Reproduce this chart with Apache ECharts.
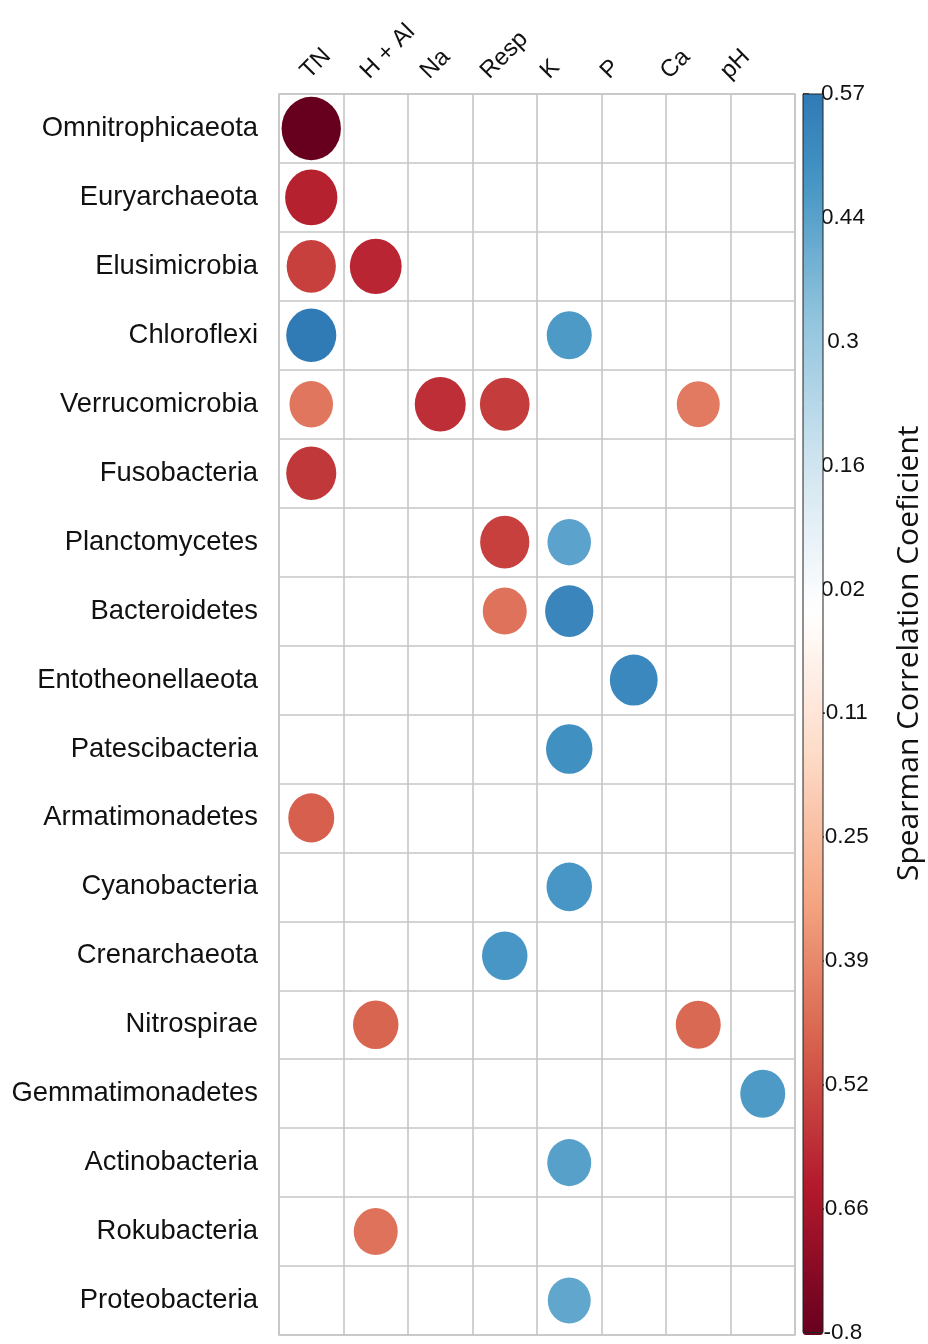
<!DOCTYPE html>
<html>
<head>
<meta charset="utf-8">
<script src="https://cdn.jsdelivr.net/npm/echarts@6/dist/echarts.min.js"></script>
<style>
  html, body { margin: 0; padding: 0; background: #ffffff; }
  #chart { width: 928px; height: 1344px; }
</style>
</head>
<body>
<div id="chart"></div>
<script>
// ---------- DATA ----------
const rows = ['Omnitrophicaeota', 'Euryarchaeota', 'Elusimicrobia', 'Chloroflexi', 'Verrucomicrobia',
  'Fusobacteria', 'Planctomycetes', 'Bacteroidetes', 'Entotheonellaeota', 'Patescibacteria',
  'Armatimonadetes', 'Cyanobacteria', 'Crenarchaeota', 'Nitrospirae', 'Gemmatimonadetes',
  'Actinobacteria', 'Rokubacteria', 'Proteobacteria'];
const cols = ['TN', 'H + Al', 'Na', 'Resp', 'K', 'P', 'Ca', 'pH'];

// one array per column, one entry per row (null = no significant correlation)
const tnValues   = [-0.80, -0.62, -0.55, 0.57, -0.43, -0.57, null, null, null, null, -0.48, null, null, null, null, null, null, null];
const hAlValues  = [null, null, -0.61, null, null, null, null, null, null, null, null, null, null, -0.47, null, null, -0.44, null];
const naValues   = [null, null, null, null, -0.59, null, null, null, null, null, null, null, null, null, null, null, null, null];
const respValues = [null, null, null, null, -0.56, null, -0.55, -0.44, null, null, null, null, 0.47, null, null, null, null, null];
const kValues    = [null, null, null, 0.46, null, null, 0.43, 0.53, null, 0.49, null, 0.47, null, null, null, 0.44, null, 0.42];
const pValues    = [null, null, null, null, null, null, null, null, 0.52, null, null, null, null, null, null, null, null, null];
const caValues   = [null, null, null, null, -0.42, null, null, null, null, null, null, null, null, -0.46, null, null, null, null];
const phValues   = [null, null, null, null, null, null, null, null, null, null, null, null, null, null, 0.46, null, null, null];

const colorbarMin = -0.8;
const colorbarMax = 0.57;
const colorbarTickLabels = ['-0.8', '-0.66', '-0.52', '-0.39', '-0.25', '-0.11', '0.02', '0.16', '0.3', '0.44', '0.57'];
const legendTitle = 'Spearman Correlation Coeficient';

// ---------- build ----------
const columnValues = [tnValues, hAlValues, naValues, respValues, kValues, pValues, caValues, phValues];
const points = [];
columnValues.forEach((arr, ci) => {
  arr.forEach((v, ri) => { if (v !== null) points.push([ci, ri, v]); });
});
const maxAbs = Math.max(...points.map(p => Math.abs(p[2])));

// RdBu palette (corrplot COL2) spread symmetric over [-maxAbs, maxAbs]
const rdbu = ['#67001F', '#B2182B', '#D6604D', '#F4A582', '#FDDBC7', '#FFFFFF', '#D1E5F0', '#92C5DE', '#4393C3', '#2166AC', '#053061'];
function hex2rgb(h) { return [parseInt(h.slice(1,3),16), parseInt(h.slice(3,5),16), parseInt(h.slice(5,7),16)]; }
function colorAt(v) {
  const t = (v + maxAbs) / (2 * maxAbs) * (rdbu.length - 1);
  const i = Math.max(0, Math.min(rdbu.length - 2, Math.floor(t)));
  const f = t - i;
  const a = hex2rgb(rdbu[i]), b = hex2rgb(rdbu[i + 1]);
  const c = a.map((x, k) => Math.round(x + (b[k] - x) * f));
  return 'rgb(' + c.join(',') + ')';
}
const rampColors = [];
const nRamp = 60;
for (let k = 0; k <= nRamp; k++) rampColors.push(colorAt(colorbarMin + (colorbarMax - colorbarMin) * k / nRamp));

// ---------- layout ----------
const G = { left: 279, top: 94, width: 516, height: 1241 };
const CB = { left: 803, top: 94, width: 20, height: 1241 };
// column labels in the source image sit on a slightly narrower pitch than the cells
const LBL = { left: 274.5, top: 94, width: 480, height: 1 };
const cellW = G.width / cols.length;
const cellH = G.height / rows.length;
const FONT = '"Liberation Sans", Arial, Helvetica, sans-serif';
const gridLine = '#c6c6c6';

const chart = echarts.init(document.getElementById('chart'), null, { renderer: 'canvas' });
chart.setOption({
  backgroundColor: '#ffffff',
  animation: false,
  grid: [
    { left: G.left, top: G.top, width: G.width, height: G.height, show: true, borderColor: gridLine, borderWidth: 1.6, backgroundColor: 'transparent' },
    { left: CB.left, top: CB.top, width: CB.width, height: CB.height, show: true, borderColor: '#222', borderWidth: 1, backgroundColor: 'transparent', z: 10 },
    { left: LBL.left, top: LBL.top, width: LBL.width, height: LBL.height, show: false }
  ],
  xAxis: [
    {
      gridIndex: 0, type: 'category', data: cols, position: 'top',
      axisLine: { show: false, onZero: false }, axisTick: { show: false },
      splitLine: { show: true, interval: 0, lineStyle: { color: gridLine, width: 1.6 } },
      axisLabel: { show: false }
    },
    { gridIndex: 1, type: 'value', min: 0, max: 1, show: false },
    {
      gridIndex: 2, type: 'category', data: cols, position: 'top',
      axisLine: { show: false, onZero: false }, axisTick: { show: false }, splitLine: { show: false },
      axisLabel: { rotate: -45, interval: 0, fontSize: 24, fontFamily: FONT, color: '#111', margin: 19 }
    }
  ],
  yAxis: [
    {
      gridIndex: 0, type: 'category', data: rows, inverse: true,
      axisLine: { show: false }, axisTick: { show: false },
      splitLine: { show: true, interval: 0, lineStyle: { color: gridLine, width: 1.6 } },
      axisLabel: { interval: 0, fontSize: 27.4, fontFamily: FONT, color: '#111', margin: 21 }
    },
    {
      gridIndex: 1, type: 'value', min: 0, max: colorbarTickLabels.length - 1, interval: 1, position: 'right',
      axisLine: { show: true, lineStyle: { color: '#222', width: 1 } },
      axisTick: { show: true, length: 6, lineStyle: { color: '#222', width: 1.5 } },
      splitLine: { show: false },
      axisLabel: { formatter: v => colorbarTickLabels[v], align: 'center', margin: 20, fontSize: 22.5, fontFamily: FONT, color: '#111' },
      name: legendTitle, nameLocation: 'middle', nameRotate: 90, nameGap: 71,
      nameTextStyle: { fontSize: 30, fontFamily: '"Open Sans", "Noto Sans", sans-serif', color: '#111', padding: [0, 0, 0, 120] }
    },
    { gridIndex: 2, type: 'value', min: 0, max: 1, show: false }
  ],
  visualMap: {
    type: 'continuous', min: colorbarMin, max: colorbarMax, dimension: 2, seriesIndex: 0,
    inRange: { color: rampColors },
    show: true, calculable: false, showLabel: false, text: null, hoverLink: false,
    left: CB.left, top: CB.top, itemWidth: CB.width, itemHeight: CB.height, padding: 0, orient: 'vertical'
  },
  series: [{
    type: 'scatter', xAxisIndex: 0, yAxisIndex: 0,
    data: points,
    symbol: 'circle',
    symbolSize: d => {
      const s = Math.sqrt(Math.abs(d[2]) / maxAbs) * 0.92;
      return [cellW * s, cellH * s];
    },
    itemStyle: { opacity: 1 },
    emphasis: { disabled: true }
  }]
});
</script>
</body>
</html>
